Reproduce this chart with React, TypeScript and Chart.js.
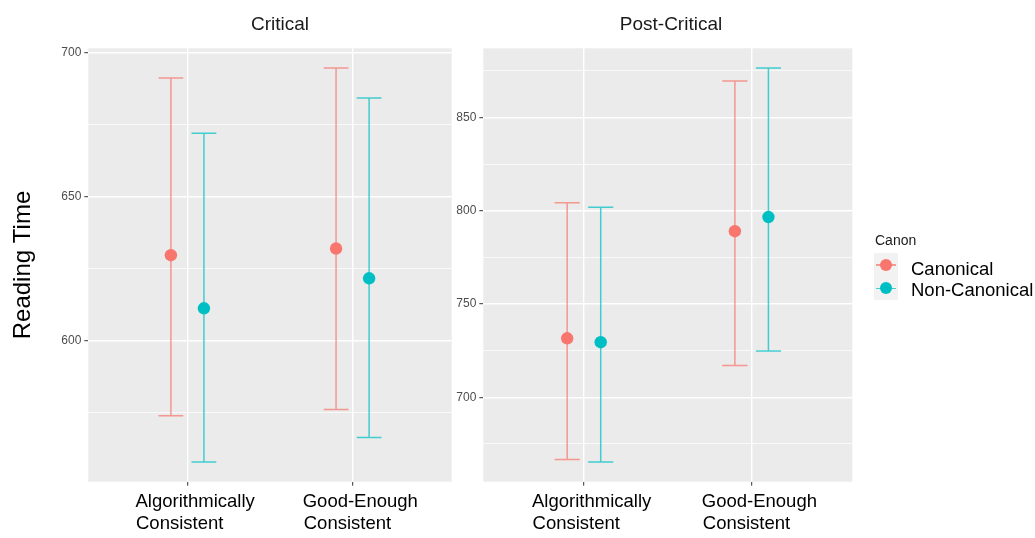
import React, { useEffect, useRef } from "react";
import { Chart, registerables } from "chart.js";

Chart.register(...registerables);

// ---------------- data ----------------
const panelTitles = ["Critical", "Post-Critical"];
const categories = ["Algorithmically Consistent", "Good-Enough Consistent"];
const tickLabels = [
  ["Algorithmically", "Consistent"],
  ["Good-Enough", "Consistent"],
];
const seriesNames = ["Canonical", "Non-Canonical"];
const legendTitle = "Canon";
const yAxisTitle = "Reading Time";

const criticalMajorTicks = [600, 650, 700];
const postMajorTicks = [700, 750, 800, 850];

const criticalCanonicalMean = [629.7, 632.0];
const criticalCanonicalLow = [574.0, 576.2];
const criticalCanonicalHigh = [691.1, 694.6];
const criticalNonCanonicalMean = [611.3, 621.7];
const criticalNonCanonicalLow = [558.0, 566.5];
const criticalNonCanonicalHigh = [672.0, 684.2];

const postCanonicalMean = [731.6, 789.0];
const postCanonicalLow = [666.6, 717.0];
const postCanonicalHigh = [804.3, 869.5];
const postNonCanonicalMean = [729.5, 796.6];
const postNonCanonicalLow = [665.3, 724.8];
const postNonCanonicalHigh = [801.8, 876.5];

// ---------------- styling ----------------
const FONT = "'Liberation Sans', Arial, Helvetica, sans-serif";
const COLORS = ["#F8766D", "#00BFC4"];
const BAR_COLORS = ["rgba(248,118,109,0.72)", "rgba(0,191,196,0.72)"];
const DODGE = 0.1;
const CAP = 0.075;
const MINOR_STEP = 25;

Chart.defaults.font.family = FONT;

const measureCanvas = typeof document !== "undefined" ? document.createElement("canvas") : null;
function alignLines(lines: string[], size: number): string[] {
  const c = measureCanvas && measureCanvas.getContext("2d");
  if (!c) return lines;
  c.font = `${size}px ${FONT}`;
  const w0 = c.measureText(lines[0]).width;
  const sp = c.measureText(" ").width;
  const lead = "   ";
  return lines.map((l, i) =>
    i === 0
      ? lead + l
      : lead + l + " ".repeat(Math.max(0, Math.round((w0 - c.measureText(l).width) / sp)))
  );
}

const panelBg = {
  id: "panelBg",
  beforeDraw(chart: any) {
    const { ctx, chartArea: a } = chart;
    ctx.save();
    ctx.fillStyle = "#EBEBEB";
    ctx.fillRect(a.left, a.top, a.right - a.left, a.bottom - a.top);
    ctx.restore();
  },
};

function pointData(means: number[], offset: number) {
  return means.map((m, i) => ({ x: i + 1 + offset, y: m }));
}

function barData(lows: number[], highs: number[], offset: number) {
  const d: { x: number; y: number | null }[] = [];
  lows.forEach((lo, i) => {
    const x = i + 1 + offset;
    const hi = highs[i];
    d.push({ x, y: lo }, { x, y: hi }, { x, y: null });
    d.push({ x: x - CAP, y: lo }, { x: x + CAP, y: lo }, { x, y: null });
    d.push({ x: x - CAP, y: hi }, { x: x + CAP, y: hi }, { x, y: null });
  });
  return d;
}

interface PanelSpec {
  title: string;
  means: number[][];
  lows: number[][];
  highs: number[][];
  majors: number[];
  yWidth: number;
  padRight: number;
  showYTitle: boolean;
}

function buildConfig(p: PanelSpec): any {
  const all = [...p.lows.flat(), ...p.highs.flat(), ...p.means.flat()];
  const lo = Math.min(...all);
  const hi = Math.max(...all);
  const ext = (hi - lo) * 0.05;
  const yMin = lo - ext;
  const yMax = hi + ext;
  const offsets = [-DODGE, DODGE];

  const pointSets = p.means.map((m, s) => ({
    label: seriesNames[s],
    data: pointData(m, offsets[s]),
    backgroundColor: COLORS[s],
    borderWidth: 0,
    pointRadius: 6.2,
    pointHoverRadius: 6.2,
    showLine: false,
  }));
  const barSets = p.lows.map((l, s) => ({
    label: seriesNames[s] + " CI",
    data: barData(l, p.highs[s], offsets[s]),
    borderColor: BAR_COLORS[s],
    borderWidth: 1.5,
    pointRadius: 0,
    pointHoverRadius: 0,
    showLine: true,
    spanGaps: false,
    fill: false,
    tension: 0,
  }));

  const isMajor = (v: any) => p.majors.includes(v);

  return {
    type: "scatter",
    data: { datasets: [...pointSets, ...barSets] },
    options: {
      responsive: false,
      animation: false,
      events: [],
      layout: { padding: { left: 0, right: 0, top: 0, bottom: 0 } },
      plugins: {
        legend: { display: false },
        tooltip: { enabled: false },
        title: {
          display: true,
          text: p.title,
          color: "#1a1a1a",
          font: { size: 19, weight: "normal", family: FONT },
          padding: { top: 13, bottom: 12.5 },
          fullSize: true,
        },
      },
      scales: {
        x: {
          type: "linear",
          min: 0.4,
          max: 2.6,
          afterBuildTicks: (s: any) => {
            s.ticks = categories.map((_, i) => ({ value: i + 1 }));
          },
          afterFit: (s: any) => {
            s.height = 56.3;
          },
          ticks: {
            autoSkip: false,
            maxRotation: 0,
            minRotation: 0,
            padding: 5,
            color: "#000000",
            font: { size: 18.5, family: FONT },
            callback: (_v: any, i: number) => alignLines(tickLabels[i], 18.5),
          },
          grid: {
            color: "#FFFFFF",
            lineWidth: 1.4,
            tickLength: 4,
            tickColor: "#333333",
            tickWidth: 1,
          },
          border: { display: false },
        },
        y: {
          type: "linear",
          position: "left",
          min: yMin,
          max: yMax,
          afterBuildTicks: (s: any) => {
            const t: { value: number }[] = [];
            for (let v = Math.ceil(yMin / MINOR_STEP) * MINOR_STEP; v <= yMax; v += MINOR_STEP) {
              t.push({ value: v });
            }
            s.ticks = t;
          },
          afterFit: (s: any) => {
            s.width = p.yWidth;
          },
          ticks: {
            autoSkip: false,
            padding: 3,
            color: "#4D4D4D",
            font: { size: 12, family: FONT },
            callback: (v: any) => (isMajor(v) ? String(v) : ""),
          },
          grid: {
            color: "#FFFFFF",
            lineWidth: (ctx: any) => (ctx.tick && isMajor(ctx.tick.value) ? 1.4 : 0.7),
            tickLength: 4,
            tickWidth: 1,
            tickColor: (ctx: any) =>
              ctx.tick && isMajor(ctx.tick.value) ? "#333333" : "rgba(0,0,0,0)",
          },
          border: { display: false },
          title: {
            display: p.showYTitle,
            text: yAxisTitle,
            color: "#000000",
            font: { size: 24, family: FONT },
            padding: { top: 9, bottom: 0 },
          },
        },
        pad: {
          type: "linear",
          position: "right",
          display: true,
          afterFit: (s: any) => {
            s.width = p.padRight;
          },
          ticks: { display: false },
          grid: { display: false, drawTicks: false },
          border: { display: false },
        },
      },
    },
    plugins: [panelBg],
  };
}

function Panel(props: { spec: PanelSpec; left: number; width: number }) {
  const ref = useRef<HTMLCanvasElement | null>(null);
  useEffect(() => {
    if (!ref.current) return;
    const chart = new Chart(ref.current, buildConfig(props.spec));
    return () => chart.destroy();
  }, []);
  return (
    <canvas
      ref={ref}
      width={props.width}
      height={538}
      style={{ position: "absolute", left: props.left, top: 0, width: props.width, height: 538 }}
    />
  );
}

function LegendKey(props: { color: string; barColor: string; top: number }) {
  return (
    <div
      style={{
        position: "absolute",
        left: 874,
        top: props.top,
        width: 24,
        height: 23.5,
        background: "#F2F2F2",
      }}
    >
      <div
        style={{
          position: "absolute",
          left: 2,
          width: 20,
          top: 11,
          height: 1.5,
          background: props.barColor,
        }}
      />
      <div
        style={{
          position: "absolute",
          left: 5.8,
          top: 5.6,
          width: 12.4,
          height: 12.4,
          borderRadius: "50%",
          background: props.color,
        }}
      />
    </div>
  );
}

export default function App() {
  const critical: PanelSpec = {
    title: panelTitles[0],
    means: [criticalCanonicalMean, criticalNonCanonicalMean],
    lows: [criticalCanonicalLow, criticalNonCanonicalLow],
    highs: [criticalCanonicalHigh, criticalNonCanonicalHigh],
    majors: criticalMajorTicks,
    yWidth: 88.3,
    padRight: 560 - 451.7,
    showYTitle: true,
  };
  const post: PanelSpec = {
    title: panelTitles[1],
    means: [postCanonicalMean, postNonCanonicalMean],
    lows: [postCanonicalLow, postNonCanonicalLow],
    highs: [postCanonicalHigh, postNonCanonicalHigh],
    majors: postMajorTicks,
    yWidth: 43.3,
    padRight: 902 - 852.3,
    showYTitle: false,
  };
  return (
    <div
      style={{
        position: "absolute",
        left: 0,
        top: 0,
        width: 1035,
        height: 538,
        background: "#FFFFFF",
        overflow: "hidden",
        fontFamily: FONT,
      }}
    >
      <Panel spec={critical} left={0} width={560} />
      <Panel spec={post} left={440} width={462} />
      <div
        style={{
          position: "absolute",
          left: 875,
          top: 232,
          fontSize: 14,
          lineHeight: "16px",
          color: "#1a1a1a",
          whiteSpace: "nowrap",
        }}
      >
        {legendTitle}
      </div>
      <LegendKey color={COLORS[0]} barColor={BAR_COLORS[0]} top={253} />
      <LegendKey color={COLORS[1]} barColor={BAR_COLORS[1]} top={276.5} />
      {seriesNames.map((n, i) => (
        <div
          key={n}
          style={{
            position: "absolute",
            left: 911,
            top: i === 0 ? 258.1 : 278.9,
            fontSize: 18.5,
            lineHeight: "22px",
            color: "#000000",
            whiteSpace: "nowrap",
          }}
        >
          {n}
        </div>
      ))}
    </div>
  );
}
